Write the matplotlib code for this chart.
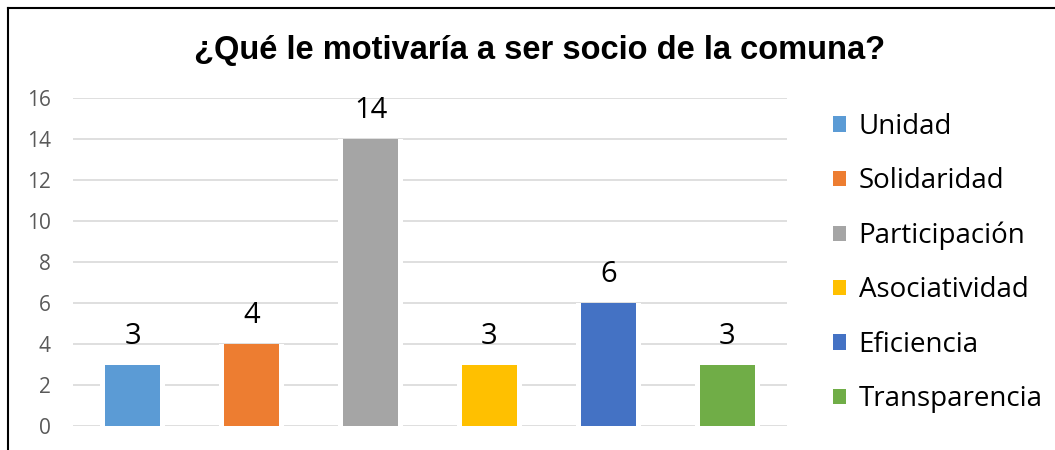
import matplotlib.pyplot as plt
from matplotlib.patches import Patch
from matplotlib.lines import Line2D

categories = ['Unidad', 'Solidaridad', 'Participación', 'Asociatividad', 'Eficiencia', 'Transparencia']
values = [3, 4, 14, 3, 6, 3]
colors = ['#5B9BD5', '#ED7D31', '#A5A5A5', '#FFC000', '#4472C4', '#70AD47']
yticks = [0, 2, 4, 6, 8, 10, 12, 14, 16]

fig = plt.figure(figsize=(10.55, 4.5), dpi=100)
ax = fig.add_axes([73 / 1055, 1 - 426 / 450, 714 / 1055, 328 / 450])

x = range(len(categories))
# white "gap" behind bars so the gridlines stop short of them
ax.bar(x, values, width=0.54, color='white', zorder=2)
bars = ax.bar(x, values, width=0.47, color=colors, zorder=3)
for xi, v in zip(x, values):
    ax.annotate(str(v), (xi, v), xytext=(0, 20.5), textcoords='offset points',
                ha='center', va='center', fontsize=21, family='Open Sans', color='black')

ax.set_xlim(-0.5, 5.5)
ax.set_ylim(0, 16)
ax.set_yticks(yticks)
ax.set_xticks([])
ax.yaxis.grid(True, color='#D9D9D9', linewidth=1.2, zorder=1)
ax.set_axisbelow(True)
for s in ax.spines.values():
    s.set_visible(False)
ax.tick_params(axis='y', length=0, pad=16, labelsize=15, labelcolor='#595959')
for lab in ax.get_yticklabels():
    lab.set_family('Open Sans')

fig.text(540 / 1055, 1 - 50 / 450, '¿Qué le motivaría a ser socio de la comuna?',
         ha='center', va='center', fontsize=23.5, fontweight='bold',
         family='Liberation Sans')

handles = [Patch(facecolor=c, edgecolor='none') for c in colors]
fig.legend(handles, categories, loc='center left', bbox_to_anchor=(822 / 1055, 1 - 263 / 450),
           frameon=False, borderaxespad=0, prop={'family': 'Open Sans', 'size': 20},
           handlelength=0.47, handleheight=0.47, handletextpad=0.45, labelspacing=0.95)

# chart border (left and top visible)
fig.add_artist(Line2D([8 / 1055, 8 / 1055], [0, 1 - 8 / 450], color='black', linewidth=1.5))
fig.add_artist(Line2D([8 / 1055, 1], [1 - 8 / 450, 1 - 8 / 450], color='black', linewidth=1.5))

fig.savefig('out.png', dpi=100)
